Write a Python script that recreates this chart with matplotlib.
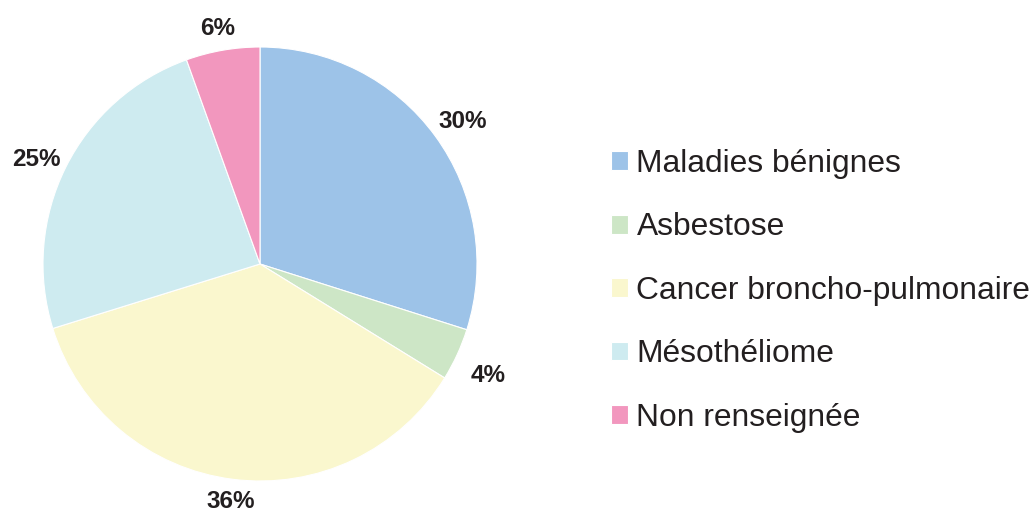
import matplotlib
matplotlib.use("Agg")
import matplotlib.pyplot as plt
import numpy as np

categories = ["Maladies bénignes", "Asbestose", "Cancer broncho-pulmonaire", "Mésothéliome", "Non renseignée"]
values = [29.9, 3.9, 36.4, 24.3, 5.5]
pct_labels = ["30%", "4%", "36%", "25%", "6%"]
colors = ["#9DC3E8", "#CDE6C6", "#FAF7CE", "#CEEBF0", "#F297BE"]
label_dist = [1.16, 1.158, 1.075, 1.15, 1.13]

plt.rcParams['font.family'] = ['Liberation Sans', 'DejaVu Sans']

W, H = 1035, 515
fig = plt.figure(figsize=(W / 100, H / 100), dpi=100)
cx, cy, r = 260, 264, 217
ax = fig.add_axes([(cx - r) / W, (H - cy - r) / H, 2 * r / W, 2 * r / H])
wedges, _ = ax.pie(values, colors=colors, startangle=90, counterclock=False, radius=1,
                   wedgeprops=dict(edgecolor="white", linewidth=0.8))
for w, lab, d in zip(wedges, pct_labels, label_dist):
    ang = np.deg2rad((w.theta1 + w.theta2) / 2)
    ax.annotate(lab, xy=(d * np.cos(ang), d * np.sin(ang)), xytext=(0, -4),
                textcoords="offset pixels", ha="center", va="center_baseline",
                fontsize=17.5, fontweight="bold", color="#231F20", annotation_clip=False)
ax.set_xlim(-1, 1)
ax.set_ylim(-1, 1)
ax.set_aspect("equal")
ax.axis("off")

leg = fig.legend(wedges, categories, loc="upper left", bbox_to_anchor=(611 / W, 1 - 149 / H),
                 frameon=False, fontsize=22.9, handlelength=0.53, handleheight=0.53,
                 handletextpad=0.27, labelspacing=1.05, borderpad=0, borderaxespad=0)
for tx in leg.get_texts():
    tx.set_color("#231F20")

fig.savefig("out.png", dpi=100)
